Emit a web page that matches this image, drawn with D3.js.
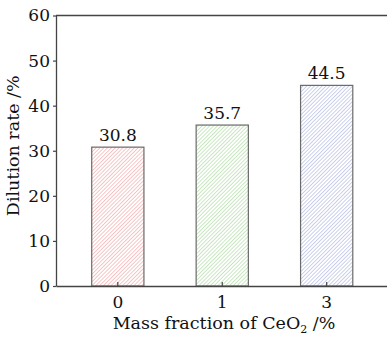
<!DOCTYPE html>
<html>
<head>
<meta charset="utf-8">
<script src="https://cdn.jsdelivr.net/npm/d3@7"></script>
<style>
  body { margin: 0; background: #fff; }
  text { font-family: "DejaVu Serif", serif; fill: #111; }
</style>
</head>
<body>
<svg id="chart"></svg>
<script>
const categories = ["0", "1", "3"];
const values = [30.8, 35.7, 44.5];
const colors = ["#f2a0a0", "#a6d89a", "#a9b2e0"];
const yTicks = [0, 10, 20, 30, 40, 50, 60];

const width = 387, height = 338;
const margin = {top: 15.5, right: -1.5, bottom: 52, left: 56};
const innerW = width - margin.left - margin.right;
const innerH = height - margin.top - margin.bottom;

const svg = d3.select("#chart")
    .attr("width", width)
    .attr("height", height);

// diagonal hatch fills
const hs = 2.7;
const defs = svg.append("defs");
colors.forEach((c, i) => {
    const p = defs.append("pattern")
        .attr("id", "hatch" + i)
        .attr("patternUnits", "userSpaceOnUse")
        .attr("width", hs)
        .attr("height", hs)
        .attr("patternTransform", "rotate(45)");
    p.append("rect").attr("width", hs).attr("height", hs).attr("fill", "#fff");
    p.append("line")
        .attr("x1", 0).attr("y1", 0).attr("x2", 0).attr("y2", hs)
        .attr("stroke", c).attr("stroke-width", 1.2);
});

const chart = svg.append("g")
    .attr("transform", `translate(${margin.left}, ${margin.top})`);

const x = d3.scaleBand()
    .domain(categories)
    .range([0, innerW])
    .paddingInner(0.5)
    .paddingOuter(0.342);

const y = d3.scaleLinear()
    .domain([0, 60])
    .range([innerH, 0]);

// bars
chart.selectAll("rect.bar")
    .data(values)
    .enter()
    .append("rect")
    .attr("class", "bar")
    .attr("x", (d, i) => x(categories[i]))
    .attr("y", d => y(d))
    .attr("width", x.bandwidth())
    .attr("height", d => innerH - y(d))
    .attr("fill", (d, i) => `url(#hatch${i})`)
    .attr("stroke", "#6a6a6a")
    .attr("stroke-width", 1.2);

// value labels
chart.selectAll("text.val")
    .data(values)
    .enter()
    .append("text")
    .attr("class", "val")
    .attr("x", (d, i) => x(categories[i]) + x.bandwidth() / 2)
    .attr("y", d => y(d) - 6)
    .attr("text-anchor", "middle")
    .attr("font-size", "17px")
    .text(d => d.toFixed(1));

// frame top
chart.append("line")
    .attr("x1", 0).attr("x2", innerW)
    .attr("y1", 0).attr("y2", 0)
    .attr("stroke", "#444").attr("stroke-width", 1.3);

// axes
const xAxis = d3.axisBottom(x).tickSizeInner(-4).tickSizeOuter(0).tickPadding(10);
const yAxis = d3.axisLeft(y).tickValues(yTicks).tickSizeInner(3).tickSizeOuter(0).tickPadding(3);

const gx = chart.append("g")
    .attr("transform", `translate(0, ${innerH})`)
    .call(xAxis);
const gy = chart.append("g").call(yAxis);

[gx, gy].forEach(g => {
    g.select(".domain").attr("stroke", "#444").attr("stroke-width", 1.3);
    g.selectAll(".tick line").attr("stroke", "#444").attr("stroke-width", 1.2);
    g.selectAll(".tick text")
        .attr("font-family", "DejaVu Serif, serif")
        .attr("font-size", "17px")
        .attr("fill", "#111");
});

// axis titles
const xl = svg.append("text")
    .attr("x", margin.left + 168)
    .attr("y", 329)
    .attr("text-anchor", "middle")
    .attr("font-size", "17.5px");
xl.append("tspan").text("Mass fraction of CeO");
xl.append("tspan").attr("font-size", "11px").attr("dy", 4).text("2");
xl.append("tspan").attr("dy", -4).text(" /%");

svg.append("text")
    .attr("transform", "rotate(-90)")
    .attr("x", -(margin.top + innerH / 2) + 5)
    .attr("y", 19)
    .attr("text-anchor", "middle")
    .attr("font-size", "17.5px")
    .text("Dilution rate /%");
</script>
</body>
</html>
